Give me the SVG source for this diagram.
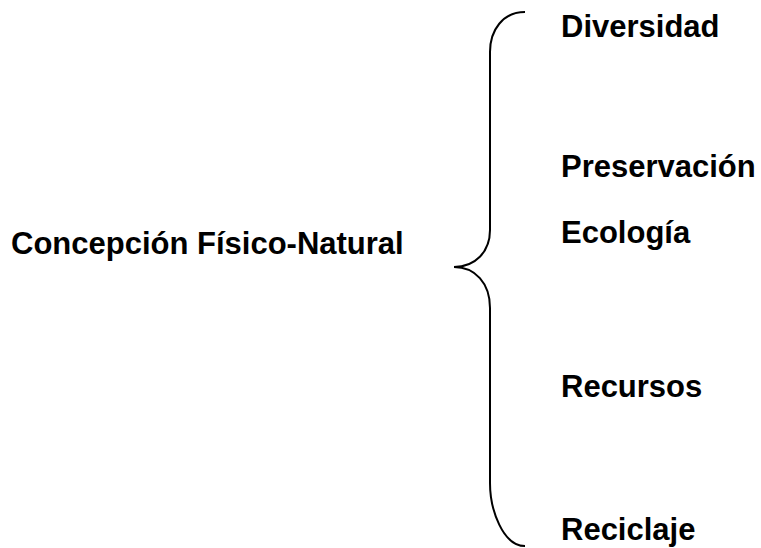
<svg xmlns="http://www.w3.org/2000/svg" width="761" height="548" viewBox="0 0 761 548">
<style>
text{font-family:"Liberation Sans",Arial,sans-serif;font-weight:bold;font-size:31px;fill:#000}
.br{fill:none;stroke:#000;stroke-width:2}
</style>
<rect width="761" height="548" fill="#fff"/>
<g id="concepcion"><text x="11" y="254">Concepción Físico-Natural</text></g>
<g id="connectors">
<path class="br" d="M525,12 C503,12 490,30 490,52 L490,230 C490,252 475,267 454,267 C475,267 490,283 490,308 L490,483 C490,510 503,546 525,546"/>
</g>
<g id="diversidad"><text x="561" y="37">Diversidad</text></g>
<g id="preservacion"><text x="561" y="177">Preservación</text></g>
<g id="ecologia"><text x="561" y="243">Ecología</text></g>
<g id="recursos"><text x="561" y="397">Recursos</text></g>
<g id="reciclaje"><text x="561" y="540">Reciclaje</text></g>
</svg>
